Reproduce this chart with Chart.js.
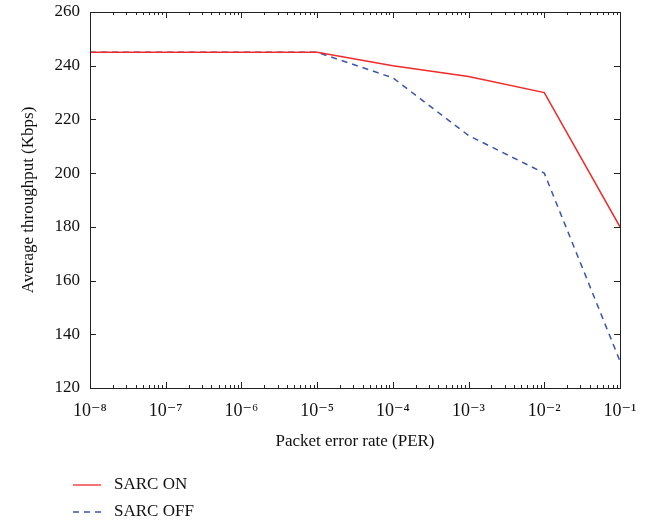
<!DOCTYPE html>
<html>
<head>
<meta charset="utf-8">
<script src="https://cdn.jsdelivr.net/npm/chart.js@4"></script>
<style>
  html, body { margin: 0; padding: 0; background: #fff; }
  #wrap { width: 649px; height: 522px; position: relative; }
</style>
</head>
<body>
<div id="wrap"><canvas id="chart"></canvas></div>
<script>
// data
const perValues = [1e-8, 1e-7, 1e-6, 1e-5, 1e-4, 1e-3, 1e-2, 1e-1];
const sarcOn = [245, 245, 245, 245, 240, 236, 230, 180];
const sarcOff = [245, 245, 245, 245, 235.5, 214, 200, 130];
const seriesLabels = ['SARC ON', 'SARC OFF'];
const yTicks = [120, 140, 160, 180, 200, 220, 240, 260];

const colors = {
  red: '#ee2a2a',
  blue: '#3a55b0',
  axis: '#222',
  text: '#111',
};
const FONT = "'Liberation Serif', 'DejaVu Serif', serif";
const DASH = [6, 5];

const sup = { '-': '\u207B', '0': '\u2070', '1': '\u00B9', '2': '\u00B2', '3': '\u00B3',
  '4': '\u2074', '5': '\u2075', '6': '\u2076', '7': '\u2077', '8': '\u2078', '9': '\u2079' };
const powLabel = v => '10' + String(Math.round(Math.log10(v))).split('').map(c => sup[c]).join('');

function pts(ys) {
  return perValues.map((x, i) => ({ x, y: ys[i] }));
}

// inward ticks on all four sides, box frame, and the stacked legend below
const framePlugin = {
  id: 'frame',
  afterDraw(chart) {
    const { ctx, chartArea: a, scales } = chart;
    const x = scales.x, y = scales.y;
    ctx.save();
    ctx.strokeStyle = colors.axis;
    ctx.lineWidth = 1;
    ctx.strokeRect(a.left + 0.5, a.top + 0.5, a.right - a.left, a.bottom - a.top);

    ctx.beginPath();
    for (let e = -8; e <= -1; e++) {
      for (let m = 1; m <= 9; m++) {
        const v = m * Math.pow(10, e);
        if (v > 0.1 + 1e-12) break;
        const px = Math.round(x.getPixelForValue(v)) + 0.5;
        const len = m === 1 ? 6 : 3;
        ctx.moveTo(px, a.bottom); ctx.lineTo(px, a.bottom - len);
        ctx.moveTo(px, a.top); ctx.lineTo(px, a.top + len);
      }
    }
    yTicks.forEach(v => {
      const py = Math.round(y.getPixelForValue(v)) + 0.5;
      ctx.moveTo(a.left, py); ctx.lineTo(a.left + 6, py);
      ctx.moveTo(a.right, py); ctx.lineTo(a.right - 6, py);
    });
    ctx.stroke();

    // legend
    ctx.font = '17px ' + FONT;
    ctx.textBaseline = 'middle';
    ctx.fillStyle = colors.text;
    chart.data.datasets.forEach((ds, i) => {
      const ly = 485 + i * 27;
      ctx.beginPath();
      ctx.strokeStyle = ds.borderColor;
      ctx.lineWidth = 1.3;
      ctx.setLineDash(ds.borderDash || []);
      ctx.moveTo(73, ly); ctx.lineTo(101, ly);
      ctx.stroke();
      ctx.setLineDash([]);
      ctx.fillText(ds.label, 114, ly);
    });
    ctx.restore();
  },
};

new Chart(document.getElementById('chart'), {
  type: 'line',
  data: {
    datasets: [
      {
        label: seriesLabels[0],
        data: pts(sarcOn),
        borderColor: colors.red,
        borderWidth: 1.5,
        pointRadius: 0,
        tension: 0,
        fill: false,
      },
      {
        label: seriesLabels[1],
        data: pts(sarcOff),
        borderColor: colors.blue,
        borderWidth: 1.5,
        borderDash: DASH,
        pointRadius: 0,
        tension: 0,
        fill: false,
      },
    ],
  },
  options: {
    responsive: true,
    maintainAspectRatio: false,
    animation: false,
    layout: { padding: { left: 14, top: 12, right: 29, bottom: 66 } },
    plugins: {
      legend: { display: false },
      tooltip: { enabled: false },
    },
    scales: {
      x: {
        type: 'logarithmic',
        min: 1e-8,
        max: 1e-1,
        afterBuildTicks: s => { s.ticks = perValues.map(v => ({ value: v })); },
        afterFit: s => { s.height = 68; s.paddingLeft = 0; s.paddingRight = 0; },
        grid: { display: false, drawTicks: false },
        border: { display: false },
        ticks: {
          color: colors.text,
          font: { family: FONT, size: 18 },
          padding: 12,
          autoSkip: false,
          maxRotation: 0,
          callback: v => powLabel(v),
        },
        title: {
          display: true,
          text: 'Packet error rate (PER)',
          color: colors.text,
          font: { family: FONT, size: 17 },
          padding: { top: 14 },
        },
      },
      y: {
        min: 120,
        max: 260,
        afterBuildTicks: s => { s.ticks = yTicks.map(v => ({ value: v })); },
        afterFit: s => { s.width = 76; s.paddingTop = 0; s.paddingBottom = 0; },
        grid: { display: false, drawTicks: false },
        border: { display: false },
        ticks: {
          color: colors.text,
          font: { family: FONT, size: 17 },
          padding: 10,
        },
        title: {
          display: true,
          text: 'Average throughput (Kbps)',
          color: colors.text,
          font: { family: FONT, size: 17 },
          padding: { bottom: 4 },
        },
      },
    },
  },
  plugins: [framePlugin],
});
</script>
</body>
</html>
